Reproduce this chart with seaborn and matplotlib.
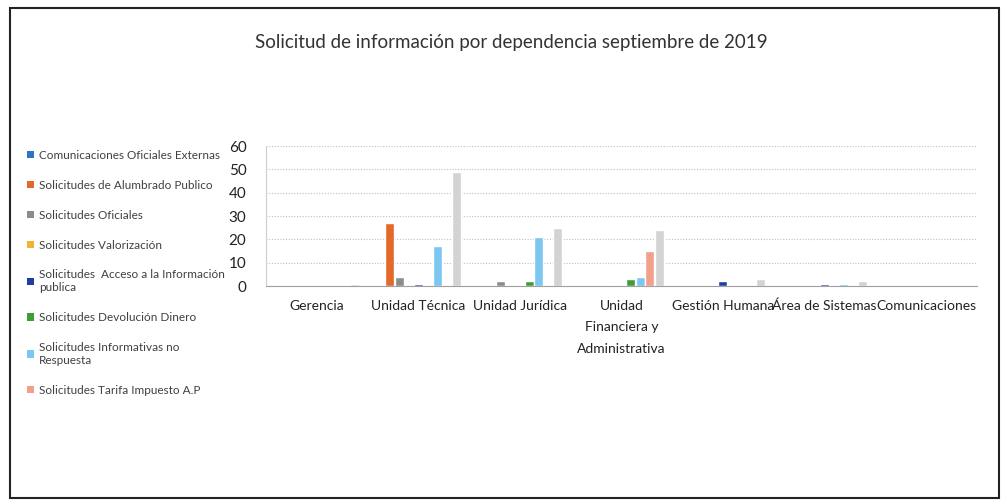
import matplotlib
matplotlib.use("Agg")
import matplotlib.pyplot as plt
from matplotlib.patches import Rectangle, Patch
import seaborn as sns
import pandas as pd

categories = ["Gerencia", "Unidad Técnica", "Unidad Jurídica",
              "Unidad\nFinanciera y\nAdministrativa", "Gestión Humana",
              "Área de Sistemas", "Comunicaciones"]
series = ["Comunicaciones Oficiales Externas",
          "Solicitudes de Alumbrado Publico",
          "Solicitudes Oficiales",
          "Solicitudes Valorización",
          "Solicitudes  Acceso a la Información\npublica",
          "Solicitudes Devolución Dinero",
          "Solicitudes Informativas no\nRespuesta",
          "Solicitudes Tarifa Impuesto A.P",
          "Total"]
colors = ["#2E75C6", "#E2692A", "#8C8C8C", "#F2B233", "#1F3FA0",
          "#3E9E35", "#7CC6F2", "#F2A08C", "#D3D3D6"]

com_oficiales = [0, 0, 0, 0, 0, 0, 0]
alumbrado     = [0, 27, 0, 0, 0, 0, 0]
oficiales     = [0, 4, 2, 0, 0, 0, 0]
valorizacion  = [0, 0, 0, 0.5, 0, 0, 0]
acceso        = [0, 1, 0, 0.5, 2, 1, 0]
devolucion    = [0, 0, 2, 3, 0, 0, 0]
informativas  = [0.5, 17, 21, 4, 0.5, 1, 0]
tarifa        = [0, 0, 0, 15, 0, 0, 0]
total         = [1, 49, 25, 24, 3, 2, 0]
values = [com_oficiales, alumbrado, oficiales, valorizacion, acceso,
          devolucion, informativas, tarifa, total]

rows = []
for s, vals in zip(series, values):
    for c, v in zip(categories, vals):
        rows.append({"Dependencia": c, "Serie": s, "Valor": v})
df = pd.DataFrame(rows)

sns.set_style("white")
plt.rcParams["font.family"] = ["Lato", "DejaVu Sans"]

fig = plt.figure(figsize=(10.07, 5.04), dpi=100)
ax = fig.add_axes([0.264, 0.4325, 0.706, 0.2775])

sns.barplot(data=df, x="Dependencia", y="Valor", hue="Serie",
            order=categories, hue_order=series, palette=colors,
            width=0.84, gap=0.05, errorbar=None, ax=ax, legend=False,
            saturation=1)

ax.set_ylim(0, 60)
ax.set_yticks(range(0, 61, 10))
ax.set_xlim(-0.5, len(categories) - 0.5)
ax.set_xlabel("")
ax.set_ylabel("")
ax.yaxis.grid(True, color="#BFBFBF", linestyle=(0, (1, 1.5)), linewidth=0.8)
ax.set_axisbelow(True)
for sp in ["top", "right"]:
    ax.spines[sp].set_visible(False)
ax.spines["left"].set_color("#D0D0D0")
ax.spines["left"].set_linewidth(0.8)
ax.spines["bottom"].set_color("#A0A0A0")
ax.spines["bottom"].set_linewidth(0.8)
ax.tick_params(axis="y", labelsize=11, colors="#222222", length=0, pad=14)
ax.tick_params(axis="x", labelsize=10, colors="#222222", length=0, pad=10)
ax.set_xticks([i + 0.5 for i in range(-1, len(categories))], minor=True)
ax.tick_params(axis="x", which="minor", length=4, color="#A0A0A0")
for lab in ax.get_xticklabels():
    lab.set_verticalalignment("top")
    lab.set_linespacing(1.95)

handles = [Patch(facecolor=c, edgecolor="none") for c in colors[:8]]
leg = fig.legend(handles, series[:8], loc="upper left",
                 bbox_to_anchor=(0.022, 0.712), frameon=False,
                 fontsize=8.5, handlelength=0.6, handleheight=0.6,
                 handletextpad=0.4, labelspacing=1.6, borderaxespad=0)
for t in leg.get_texts():
    t.set_color("#404040")

fig.text(0.508, 0.915, "Solicitud de información por dependencia septiembre de 2019",
         ha="center", va="center", fontsize=13.5, color="#333333")

fig.patches.append(Rectangle((0.010, 0.012), 0.982, 0.972, transform=fig.transFigure,
                             fill=False, edgecolor="#222222", linewidth=1.5))

fig.savefig("out.png", dpi=100)
